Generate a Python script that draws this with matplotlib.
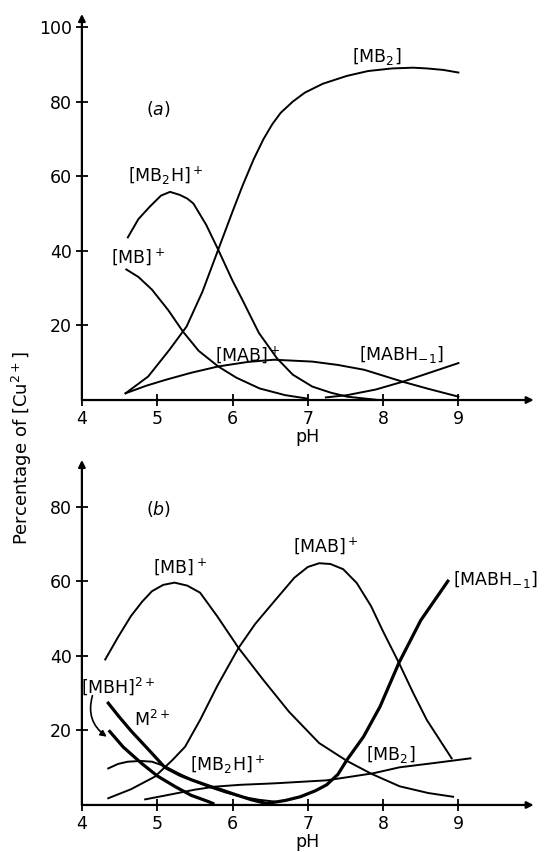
import numpy as np
import matplotlib
matplotlib.use('Agg')
import matplotlib.pyplot as plt

plt.rcParams['font.family'] = ['DejaVu Sans']
plt.rcParams['mathtext.default'] = 'regular'

# %% (a), pH vs % of Cu(2+)
mb2h_a_x = [4.61, 4.75, 4.90, 5.05, 5.17, 5.30, 5.40, 5.48, 5.65, 5.81, 6.0, 6.13, 6.35, 6.59, 6.8, 7.06, 7.3, 7.52, 7.94]
mb2h_a_y = [43.6, 48.5, 51.8, 54.8, 55.8, 55.0, 54.0, 52.7, 47.0, 40.3, 32.0, 26.9, 18.0, 11.2, 6.8, 3.6, 2.0, 0.9, 0.0]
mb_a_x = [4.59, 4.75, 4.93, 5.15, 5.34, 5.55, 5.81, 6.05, 6.36, 6.7, 6.99]
mb_a_y = [35.0, 33.0, 29.6, 24.0, 18.4, 13.2, 9.0, 6.0, 3.1, 1.3, 0.4]
mb2_a_x = [4.58, 4.88, 5.16, 5.39, 5.6, 5.81, 6.0, 6.13, 6.28, 6.41, 6.53, 6.64, 6.8, 6.96, 7.2, 7.52, 7.8, 8.12, 8.4, 8.58, 8.8, 9.0]
mb2_a_y = [1.8, 6.3, 13.4, 19.7, 29.0, 40.3, 50.5, 57.3, 64.5, 69.9, 74.0, 77.0, 80.0, 82.4, 84.8, 86.9, 88.2, 88.9, 89.1, 88.9, 88.5, 87.8]
mab_a_x = [4.58, 4.85, 5.11, 5.45, 5.81, 6.2, 6.55, 7.06, 7.4, 7.75, 8.26, 8.6, 9.0]
mab_a_y = [1.8, 3.8, 5.4, 7.3, 9.0, 10.2, 10.8, 10.3, 9.4, 8.1, 4.9, 3.0, 0.9]
mabh_a_x = [7.24, 7.52, 7.9, 8.26, 8.6, 9.0]
mabh_a_y = [0.7, 1.3, 2.8, 4.9, 7.2, 9.9]

# %% (b)
mb_b_x = [4.31, 4.48, 4.65, 4.8, 4.93, 5.08, 5.23, 5.4, 5.57, 5.8, 6.08, 6.41, 6.75, 7.15, 7.52, 7.85, 8.22, 8.6, 8.93]
mb_b_y = [39.0, 45.0, 50.6, 54.5, 57.3, 59.0, 59.6, 58.8, 56.9, 50.5, 42.1, 33.5, 25.0, 16.6, 11.8, 8.3, 5.0, 3.2, 2.2]
mab_b_x = [4.35, 4.65, 4.97, 5.2, 5.37, 5.57, 5.8, 6.08, 6.3, 6.5, 6.82, 7.0, 7.15, 7.3, 7.47, 7.65, 7.84, 8.0, 8.21, 8.4, 8.58, 8.91]
mab_b_y = [1.8, 4.2, 7.6, 12.0, 15.6, 22.8, 32.0, 42.1, 48.5, 53.3, 60.9, 63.8, 64.8, 64.6, 63.2, 59.5, 53.3, 46.5, 38.1, 30.0, 22.8, 12.5]
mabh_b_x = [6.45, 6.7, 6.9, 7.1, 7.25, 7.4, 7.52, 7.74, 7.96, 8.21, 8.5, 8.86]
mabh_b_y = [0.4, 1.2, 2.2, 3.8, 5.4, 8.2, 12.1, 18.3, 26.4, 38.1, 49.5, 60.0]
m_b_x = [4.35, 4.5, 4.66, 4.9, 5.10, 5.3, 5.46, 5.7, 5.86, 6.05, 6.25, 6.45]
m_b_y = [27.3, 23.5, 19.7, 14.5, 10.1, 8.0, 6.7, 5.0, 4.0, 2.7, 1.4, 0.4]
mbh_b_x = [4.37, 4.55, 4.79, 5.0, 5.24, 5.45, 5.68, 5.74]
mbh_b_y = [19.7, 15.5, 11.2, 7.8, 4.9, 2.6, 0.9, 0.4]
mb2h_b_x = [4.35, 4.48, 4.61, 4.78, 4.93, 5.1, 5.24, 5.45, 5.68, 5.9, 6.12, 6.35, 6.56]
mb2h_b_y = [9.8, 11.0, 11.6, 11.8, 11.6, 10.4, 8.9, 6.8, 4.9, 3.4, 2.2, 1.4, 0.9]
mb2_b_x = [4.84, 5.2, 5.5, 5.76, 6.1, 6.56, 7.25, 7.87, 8.22, 8.7, 9.16]
mb2_b_y = [1.5, 2.9, 4.1, 4.9, 5.4, 5.8, 6.6, 8.5, 10.1, 11.3, 12.5]

ph_ticks = [4, 5, 6, 7, 8, 9]
fs = 12.5
lw = 1.4
lw_thick = 2.3

def setup(ax, ytop, yticks):
    ax.set_xlim(4, 10)
    ax.set_ylim(0, ytop)
    for s in ['top', 'right', 'left', 'bottom']:
        ax.spines[s].set_visible(False)
    ax.annotate('', xy=(1.0, 0), xytext=(0, 0), xycoords='axes fraction',
                arrowprops=dict(arrowstyle='-|>', lw=1.6, color='k', mutation_scale=10, shrinkA=0, shrinkB=0))
    ax.annotate('', xy=(0, 1.0), xytext=(0, 0), xycoords='axes fraction',
                arrowprops=dict(arrowstyle='-|>', lw=1.6, color='k', mutation_scale=10, shrinkA=0, shrinkB=0))
    ax.set_xticks(ph_ticks)
    ax.set_yticks(yticks)
    ax.tick_params(direction='inout', length=8, width=1.3, labelsize=fs, pad=3)
    ax.set_xlabel('pH', fontsize=fs, labelpad=0)

fig = plt.figure(figsize=(5.46, 8.52), dpi=100)
ax1 = fig.add_axes([0.150, 0.5305, 0.8275, 0.4531])
ax2 = fig.add_axes([0.150, 0.0552, 0.8275, 0.405])

setup(ax1, 103.5, [20, 40, 60, 80, 100])
ax1.plot(mb2h_a_x, mb2h_a_y, 'k', lw=lw)
ax1.plot(mb_a_x, mb_a_y, 'k', lw=lw)
ax1.plot(mb2_a_x, mb2_a_y, 'k', lw=lw)
ax1.plot(mab_a_x, mab_a_y, 'k', lw=lw)
ax1.plot(mabh_a_x, mabh_a_y, 'k', lw=lw)
ax1.text(7.91, 92.1, '[MB$_2$]', fontsize=fs, ha='center', va='center')
ax1.text(5.02, 78, '($\\it{a}$)', fontsize=fs, ha='center', va='center')
ax1.text(5.11, 60, '[MB$_2$H]$^+$', fontsize=fs, ha='center', va='center')
ax1.text(4.74, 38.5, '[MB]$^+$', fontsize=fs, ha='center', va='center')
ax1.text(6.2, 12.1, '[MAB]$^+$', fontsize=fs, ha='center', va='center')
ax1.text(8.24, 12.1, '[MABH$_{-1}$]', fontsize=fs, ha='center', va='center')

setup(ax2, 92.5, [20, 40, 60, 80])
ax2.plot(mb_b_x, mb_b_y, 'k', lw=lw)
ax2.plot(mab_b_x, mab_b_y, 'k', lw=lw)
ax2.plot(mabh_b_x, mabh_b_y, 'k', lw=lw_thick)
ax2.plot(m_b_x, m_b_y, 'k', lw=lw_thick)
ax2.plot(mbh_b_x, mbh_b_y, 'k', lw=lw_thick)
ax2.plot(mb2h_b_x, mb2h_b_y, 'k', lw=lw)
ax2.plot(mb2_b_x, mb2_b_y, 'k', lw=lw)
ax2.text(5.02, 79.3, '($\\it{b}$)', fontsize=fs, ha='center', va='center')
ax2.text(5.30, 64, '[MB]$^+$', fontsize=fs, ha='center', va='center')
ax2.text(7.24, 69.4, '[MAB]$^+$', fontsize=fs, ha='center', va='center')
ax2.text(8.93, 60.5, '[MABH$_{-1}$]', fontsize=fs, ha='left', va='center', clip_on=False)
ax2.text(4.48, 31.8, '[MBH]$^{2+}$', fontsize=fs, ha='center', va='center')
ax2.text(4.93, 22.8, 'M$^{2+}$', fontsize=fs, ha='center', va='center')
ax2.text(5.94, 10.8, '[MB$_2$H]$^+$', fontsize=fs, ha='center', va='center')
ax2.text(8.1, 13.4, '[MB$_2$]', fontsize=fs, ha='center', va='center')
ax2.annotate('', xy=(4.33, 18.3), xytext=(4.14, 29.3),
             arrowprops=dict(arrowstyle='-|>', lw=1.2, color='k', mutation_scale=9,
                             connectionstyle='arc3,rad=0.35', shrinkA=0, shrinkB=0))

fig.text(22 / 546, 1 - 448 / 852, 'Percentage of [Cu$^{2+}$]', rotation=90,
         fontsize=13, ha='center', va='center')

plt.savefig('out.png', dpi=100)
